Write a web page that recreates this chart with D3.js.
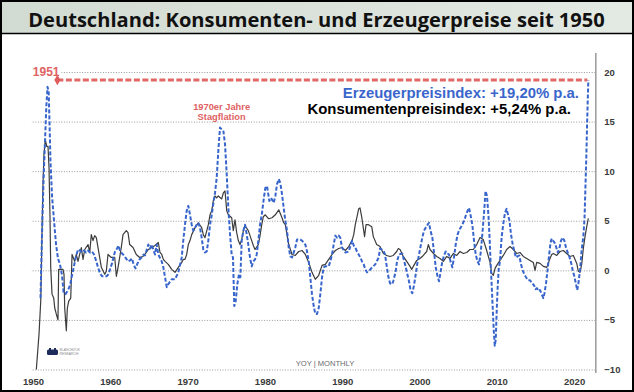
<!DOCTYPE html>
<html><head><meta charset="utf-8">
<script src="https://cdn.jsdelivr.net/npm/d3@7"></script>
<style>body{margin:0;background:#fff}svg{display:block}</style>
</head><body><svg id="c" width="634" height="392"></svg>
<script>
// ---- data (YoY %) ----
const cpiYears = [1950.43,1950.78,1951.00,1951.16,1951.29,1951.42,1951.59,1951.77,1951.94,1952.07,1952.20,1952.29,1952.46,1952.68,1952.81,1953.01,1953.23,1953.32,1953.88,1954.01,1954.10,1954.31,1954.44,1954.62,1954.88,1955.05,1955.39,1955.60,1955.82,1956.25,1956.47,1956.69,1957.12,1957.34,1957.54,1957.76,1957.98,1958.19,1958.41,1958.84,1959.28,1959.48,1959.70,1960.13,1960.57,1960.78,1961.00,1961.42,1961.64,1962.07,1962.29,1962.51,1962.94,1963.36,1963.80,1964.23,1964.66,1964.92,1965.36,1965.78,1966.21,1966.43,1966.65,1966.86,1967.08,1967.50,1967.94,1968.37,1968.80,1969.24,1969.44,1969.66,1969.88,1970.09,1970.31,1970.53,1970.96,1971.38,1971.82,1972.03,1972.25,1972.68,1972.90,1973.12,1973.32,1973.54,1973.76,1973.97,1974.41,1974.62,1974.84,1975.06,1975.27,1975.70,1975.91,1976.13,1976.35,1976.56,1976.78,1977.00,1977.21,1977.43,1977.85,1978.07,1978.29,1978.50,1978.72,1979.15,1979.37,1979.59,1979.79,1980.05,1980.49,1980.92,1981.35,1981.79,1982.21,1982.43,1982.64,1982.86,1983.08,1983.51,1983.93,1984.37,1984.80,1985.23,1985.67,1986.09,1986.52,1986.96,1987.39,1987.81,1988.25,1988.68,1989.11,1989.55,1989.97,1990.40,1990.84,1991.27,1991.49,1991.69,1991.91,1992.13,1992.30,1992.52,1992.89,1993.08,1993.40,1993.82,1994.02,1994.46,1994.89,1995.32,1995.76,1996.18,1996.61,1997.05,1997.26,1997.48,1997.90,1998.34,1998.77,1998.99,1999.20,1999.64,2000.06,2000.49,2000.93,2001.14,2001.36,2001.79,2002.23,2002.65,2003.08,2003.52,2003.95,2004.37,2004.81,2005.24,2005.67,2006.11,2006.53,2006.96,2007.40,2007.83,2008.25,2008.69,2009.12,2009.34,2009.55,2009.77,2009.99,2010.41,2010.84,2011.28,2011.71,2012.14,2012.57,2013.00,2013.43,2013.87,2014.29,2014.72,2014.94,2015.16,2015.59,2016.02,2016.46,2016.88,2017.10,2017.31,2017.75,2018.18,2018.60,2019.04,2019.47,2019.90,2020.34,2020.54,2020.76,2020.98,2021.19,2021.41,2021.63,2021.84];
const cpiValues = [-10,-6.4,-3.1,3.6,8.7,11.7,13.2,12.5,12.5,10.4,5.3,0.3,-2.4,-2.8,-3.8,-4.4,-5.0,0.1,0.1,-0.4,-3.8,-6.1,-3.8,-3.1,-2.8,1.6,0.9,1.6,0.9,2.3,1.1,2.1,2.6,1.8,3.6,3.0,3.5,3.3,2.3,0.3,-0.4,-0.1,1.6,1.3,1.3,-0.6,0.3,2.3,3.6,4.0,3.8,2.6,2.3,1.6,1.3,1.4,1.8,2.1,2.3,2.5,2.8,1.8,1.6,1.1,0.9,0.6,0.1,-0.2,0.3,0.8,1.1,1.1,1.6,2.6,3.0,3.6,4.3,4.8,4.3,3.6,3.3,4.6,5.6,6.0,7.0,7.5,7.3,7.5,7.2,7.8,8.0,6.0,5.6,5.3,4.0,5.1,3.8,3.0,2.6,3.1,4.0,4.5,4.0,3.5,3.0,2.5,2.1,2.6,3.5,4.6,5.4,5.6,5.2,5.3,5.6,6.1,5.3,4.8,4.6,3.6,2.6,1.6,1.5,1.9,2.0,1.6,0.8,-0.2,-0.9,-0.5,0.5,0.6,1.1,1.6,2.0,2.2,2.3,2.0,2.4,3.0,3.6,4.6,5.4,6.2,6.3,5.4,3.4,4.6,4.6,4.4,3.4,2.6,2.4,1.7,1.5,1.4,1.5,1.9,2.2,2.1,1.4,0.9,0.4,0.1,0.4,1.0,1.2,1.5,1.9,2.6,2.1,1.7,1.4,1.2,0.9,1.4,1.2,1.7,1.5,1.9,1.7,1.8,2.1,2.1,2.6,3.3,3.1,2.0,0.8,-0.3,-0.5,0.2,0.5,1.0,1.5,2.1,2.4,2.1,1.7,1.8,1.4,1.2,1.0,0.8,0.0,0.8,0.7,0.4,0.3,1.2,1.6,1.7,1.5,1.9,2.0,1.7,1.4,1.5,0.7,-0.1,-0.2,0.6,2.2,3.4,4.4,5.24];

const ppiYears = [1950.97,1951.16,1951.36,1951.55,1951.72,1951.88,1952.03,1952.13,1952.26,1952.46,1952.72,1952.98,1953.23,1953.49,1953.75,1953.95,1954.20,1954.53,1954.79,1955.05,1955.24,1955.50,1955.82,1956.08,1956.34,1956.60,1956.86,1957.12,1957.37,1957.63,1957.89,1958.15,1958.41,1958.67,1958.93,1959.18,1959.51,1959.77,1959.96,1960.22,1960.41,1960.61,1960.87,1961.06,1961.25,1961.51,1961.77,1962.03,1962.29,1962.55,1962.81,1963.00,1963.26,1963.52,1963.78,1964.04,1964.30,1964.49,1964.92,1965.14,1965.36,1965.56,1965.78,1966.00,1966.21,1966.65,1966.86,1967.08,1967.30,1967.50,1967.94,1968.37,1968.80,1969.24,1969.44,1969.66,1969.88,1970.09,1970.31,1970.53,1970.74,1970.96,1971.18,1971.38,1971.60,1971.82,1972.03,1972.25,1972.47,1972.68,1972.90,1973.12,1973.32,1973.54,1973.76,1973.97,1974.19,1974.41,1974.62,1974.84,1975.06,1975.27,1975.49,1975.70,1975.87,1976.04,1976.22,1976.43,1976.65,1976.82,1977.00,1977.21,1977.43,1977.65,1977.85,1978.07,1978.29,1978.50,1978.72,1978.94,1979.15,1979.37,1979.59,1979.85,1980.05,1980.27,1980.57,1980.79,1981.14,1981.35,1981.57,1981.79,1981.99,1982.21,1982.43,1982.64,1982.86,1983.08,1983.29,1983.51,1983.93,1984.15,1984.58,1984.80,1985.23,1985.45,1985.67,1985.87,1986.09,1986.31,1986.52,1986.74,1986.96,1987.17,1987.39,1987.61,1987.81,1988.25,1988.46,1988.68,1988.90,1989.11,1989.33,1989.55,1989.75,1989.97,1990.40,1990.84,1991.27,1991.49,1991.69,1991.91,1992.13,1992.34,1992.56,1992.78,1992.99,1993.21,1993.43,1993.86,1994.28,1994.72,1994.89,1995.32,1995.54,1995.76,1995.96,1996.18,1996.48,1996.64,1996.92,1997.09,1997.35,1997.77,1998.22,1998.64,1998.84,1999.07,1999.29,1999.51,1999.74,1999.94,2000.16,2000.36,2000.58,2000.80,2001.04,2001.23,2001.42,2001.66,2001.88,2002.10,2002.33,2002.52,2002.72,2002.95,2003.17,2003.39,2003.62,2003.82,2004.01,2004.25,2004.46,2004.68,2004.92,2005.11,2005.31,2005.54,2005.76,2005.98,2006.21,2006.40,2006.62,2006.83,2007.05,2007.27,2007.50,2007.70,2007.92,2008.12,2008.35,2008.54,2008.73,2008.93,2009.08,2009.21,2009.34,2009.47,2009.60,2009.73,2009.86,2009.99,2010.12,2010.25,2010.41,2010.63,2010.84,2011.06,2011.26,2011.45,2011.64,2011.84,2012.06,2012.27,2012.48,2012.68,2012.91,2013.13,2013.35,2013.56,2013.78,2014.04,2014.30,2014.55,2014.81,2015.01,2015.20,2015.40,2015.59,2015.81,2016.02,2016.17,2016.37,2016.56,2016.76,2016.95,2017.10,2017.27,2017.47,2017.66,2017.88,2018.09,2018.31,2018.53,2018.73,2018.95,2019.17,2019.38,2019.60,2019.82,2020.02,2020.25,2020.40,2020.54,2020.76,2020.98,2021.19,2021.35,2021.45,2021.58,2021.67,2021.76,2021.84];
const ppiValues = [-2.8,3.5,9,13,16.5,18.5,18.0,15,11,7.5,5,2.6,1.2,0.6,-0.5,-2.2,-2.4,-2.0,-1.5,-0.5,0.2,1.2,2.1,2.0,1.8,2.0,1.8,2.0,1.8,1.9,1.6,1.0,0.3,-0.3,-0.6,-0.6,-0.6,-0.4,0.1,0.7,1.3,1.9,2.2,2.5,2.0,1.7,1.5,1.2,0.9,1.0,1.2,0.6,0.2,0.7,1.1,1.3,1.6,1.5,2.6,2.2,2.6,2.1,1.6,2.6,1.6,0.9,0.3,-0.7,-1.7,-1.4,-0.9,-0.9,-0.2,1.3,3.0,4.6,6.0,6.5,5.6,4.6,4.0,4.3,4.6,4.8,4.3,3.3,2.1,1.8,1.9,3.0,4.6,5.6,6.7,7.8,9.3,12.0,14.4,14.2,14.1,12.7,9.7,6.3,3.6,1.6,1.3,-3.6,-3.1,-1.4,-0.4,-0.7,3.0,4.0,4.6,3.6,2.6,1.3,0.4,0.9,1.1,1.6,3.0,4.6,5.6,7.2,8.3,8.5,7.0,7.3,6.8,7.5,8.7,9.2,8.8,7.7,6.3,5.0,4.0,2.3,1.4,1.3,2.3,3.1,3.1,3.0,2.6,1.9,0.9,-0.7,-2.4,-3.6,-4.4,-4.4,-3.8,-2.4,-0.7,0.3,0.4,0.4,0.9,1.6,2.6,3.5,3.3,3.5,3.3,2.3,1.8,1.9,3.0,2.5,2.3,1.9,1.6,1.3,0.9,0.6,0.1,-0.2,-0.1,0.3,0.6,1.3,2.2,2.0,1.6,0.4,-0.6,-1.3,-1.4,-1.0,-0.1,0.9,1.6,1.7,0.3,-1.1,-2.0,-2.3,-1.5,-0.4,0.8,1.6,2.5,3.3,4.0,4.3,4.6,4.8,4.0,3.3,1.8,0.3,-0.6,-1.1,-0.2,0.9,1.5,1.9,1.7,1.6,0.9,0.3,1.3,2.6,3.6,4.0,4.3,4.6,5.0,5.5,6.0,6.3,5.5,4.6,3.0,1.6,0.9,0.6,1.8,3.6,5.8,8.0,7.5,5.4,3.0,0.5,-1.6,-3.8,-6.0,-7.6,-7.0,-4.0,-1.5,0.2,0.9,3.4,4.7,5.8,6.2,5.6,5.0,3.6,2.6,1.9,1.3,1.4,1.5,0.6,0.0,-0.4,-0.7,-1.0,-1.0,-1.3,-1.5,-1.9,-1.8,-2.1,-2.0,-2.4,-2.8,-2.3,-1.3,0.0,1.5,2.8,3.2,3.0,2.8,2.4,1.8,2.2,3.0,3.3,3.0,2.3,1.8,1.4,0.8,0.0,-0.6,-1.4,-2.0,-1.4,0.0,2.1,3.4,5.3,8.0,11.5,14.5,17.1,19.2];

const yTicks = [-10,-5,0,5,10,15,20];
const xTicks = [1950,1960,1970,1980,1990,2000,2010,2020];
const refStartYear = 1953.15;   // start of the dashed reference arrow
const titleText = "Deutschland: Konsumenten- und Erzeugerpreise seit 1950";
const ppiLabel = "Erzeugerpreisindex: +19,20% p.a.";
const cpiLabel = "Konsumentenpreisindex: +5,24% p.a.";

// ---- drawing ----
const W = 634, H = 392;
const svg = d3.select('#c');
const narrow = "'Liberation Sans Narrow','Arial Narrow','Liberation Sans',Arial,sans-serif";
const sans = "'Liberation Sans',Arial,sans-serif";

const defs = svg.append('defs');
const g0 = defs.append('linearGradient').attr('id','tb').attr('x1','0').attr('x2','1');
g0.append('stop').attr('offset','0').attr('stop-color','#d2dbd2');
g0.append('stop').attr('offset','1').attr('stop-color','#e3e9e3');

svg.append('rect').attr('width',W).attr('height',H).attr('fill','#fff');
svg.append('rect').attr('x',0).attr('y',0).attr('width',W).attr('height',33).attr('fill','url(#tb)');
svg.append('line').attr('x1',0).attr('x2',W).attr('y1',33.5).attr('y2',33.5).attr('stroke','#000').attr('stroke-width',1.6);
const title = svg.append('text').attr('x',316.5).attr('y',27).attr('text-anchor','middle')
  .attr('font-family',"'Open Sans',Lato,sans-serif").attr('font-weight','bold').attr('font-size',20)
  .attr('fill','#111').text(titleText);
// fit title to the width of the original banner text
const tw = title.node().getComputedTextLength();
if (tw > 0) title.attr('font-size', Math.min(22, 20 * 577 / tw));

const x = d3.scaleLinear().domain([1949.74, 2022.74]).range([31, 595.3]);
const y = d3.scaleLinear().domain([-10, 20]).range([369.5, 72]);

// gridlines + right axis labels
const ya = svg.append('g').attr('transform',`translate(${x.range()[1]},0)`)
  .call(d3.axisRight(y).tickValues(yTicks).tickSize(-(x.range()[1]-x.range()[0])).tickPadding(9));
ya.select('.domain').remove();
ya.selectAll('.tick line').attr('stroke','#9a9a9a').attr('stroke-dasharray','1,1.6').attr('stroke-width',1);
ya.selectAll('.tick text').attr('font-family',narrow).attr('font-weight','bold').attr('font-size',9.5).attr('fill','#3a3a3a');

// x axis labels
const xa = svg.append('g').attr('transform','translate(0,372)')
  .call(d3.axisBottom(x).tickValues(xTicks).tickSize(0).tickPadding(6).tickFormat(d3.format('d')));
xa.select('.domain').remove();
xa.selectAll('.tick text').attr('font-family',narrow).attr('font-weight','bold').attr('font-size',9.5).attr('fill','#3a3a3a');

// right axis line
svg.append('line').attr('x1',x.range()[1]+0.5).attr('x2',x.range()[1]+0.5).attr('y1',53).attr('y2',373)
  .attr('stroke','#a0a0a0').attr('stroke-width',1.6);

// "1951" label, hide gridline behind it
const lab = svg.append('text').attr('x',59.5).attr('y',75.5).attr('text-anchor','end')
  .attr('font-family',narrow).attr('font-weight','bold').attr('font-size',12).attr('fill','#e06262').text('1951');
const bb = lab.node().getBBox();
svg.insert('rect', () => lab.node()).attr('x',bb.x-1).attr('y',y(20)-2).attr('width',bb.width+2.5).attr('height',4).attr('fill','#fff');

// series
const line = d3.line().x(d => x(d[0])).y(d => y(d[1]));
svg.append('path').datum(d3.zip(cpiYears, cpiValues)).attr('d', line)
  .attr('fill','none').attr('stroke','#3c3c3c').attr('stroke-width',1.2).attr('stroke-linejoin','round');
svg.append('path').datum(d3.zip(ppiYears, ppiValues)).attr('d', line)
  .attr('fill','none').attr('stroke','#3765cc').attr('stroke-width',2).attr('stroke-dasharray','4,2').attr('stroke-linejoin','round');

// reference dashed arrow at latest PPI value
const lastYear = ppiYears[ppiYears.length-1], lastVal = ppiValues[ppiValues.length-1];
svg.append('line').attr('x1',x(refStartYear)).attr('x2',x(lastYear)-1).attr('y1',y(lastVal)).attr('y2',y(lastVal))
  .attr('stroke','#e05c5c').attr('stroke-width',3).attr('stroke-dasharray','6,2.5').attr('opacity',0.92);
svg.append('path').attr('d', d3.symbol(d3.symbolDiamond).size(32)())
  .attr('transform',`translate(${x(refStartYear)},${y(lastVal)})`).attr('fill','#e05c5c');

// legend texts
svg.append('text').attr('x',579).attr('y',97.5).attr('text-anchor','end')
  .attr('font-family',sans).attr('font-weight','bold').attr('font-size',14.9).attr('fill','#3a66cc').text(ppiLabel);
svg.append('text').attr('x',571).attr('y',114).attr('text-anchor','end')
  .attr('font-family',sans).attr('font-weight','bold').attr('font-size',14.9).attr('fill','#000').text(cpiLabel);

// annotation
const ann = svg.append('text').attr('text-anchor','middle').attr('font-family',narrow).attr('font-weight','bold')
  .attr('font-size',9.3).attr('fill','#e06262');
ann.append('tspan').attr('x',x(1974.4)).attr('y',109.6).text('1970er Jahre');
ann.append('tspan').attr('x',x(1974.4)).attr('y',119.6).text('Stagflation');

// source note
svg.append('text').attr('x',325).attr('y',366).attr('text-anchor','middle').attr('font-family',narrow)
  .attr('font-size',7.6).attr('fill','#6a6a6a').text('YOY | MONTHLY');

// small logo
const logo = svg.append('g').attr('transform','translate(47,348)');
logo.append('rect').attr('x',0).attr('y',1.5).attr('width',11).attr('height',5.5).attr('rx',1.5).attr('fill','#1e2c5c');
logo.append('rect').attr('x',2).attr('y',0).attr('width',2).attr('height',3).attr('fill','#1e2c5c');
logo.append('rect').attr('x',7).attr('y',0).attr('width',2).attr('height',3).attr('fill','#1e2c5c');
logo.append('text').attr('x',12.5).attr('y',3.3).attr('font-family',sans).attr('font-size',3.4).attr('fill','#8a8a8a').text('BLASCHZOK');
logo.append('text').attr('x',12.5).attr('y',7).attr('font-family',sans).attr('font-size',3.4).attr('fill','#8a8a8a').text('RESEARCH');

// outer border
svg.append('rect').attr('x',1).attr('y',1).attr('width',W-2).attr('height',H-2).attr('fill','none').attr('stroke','#000').attr('stroke-width',2);
</script></body></html>
